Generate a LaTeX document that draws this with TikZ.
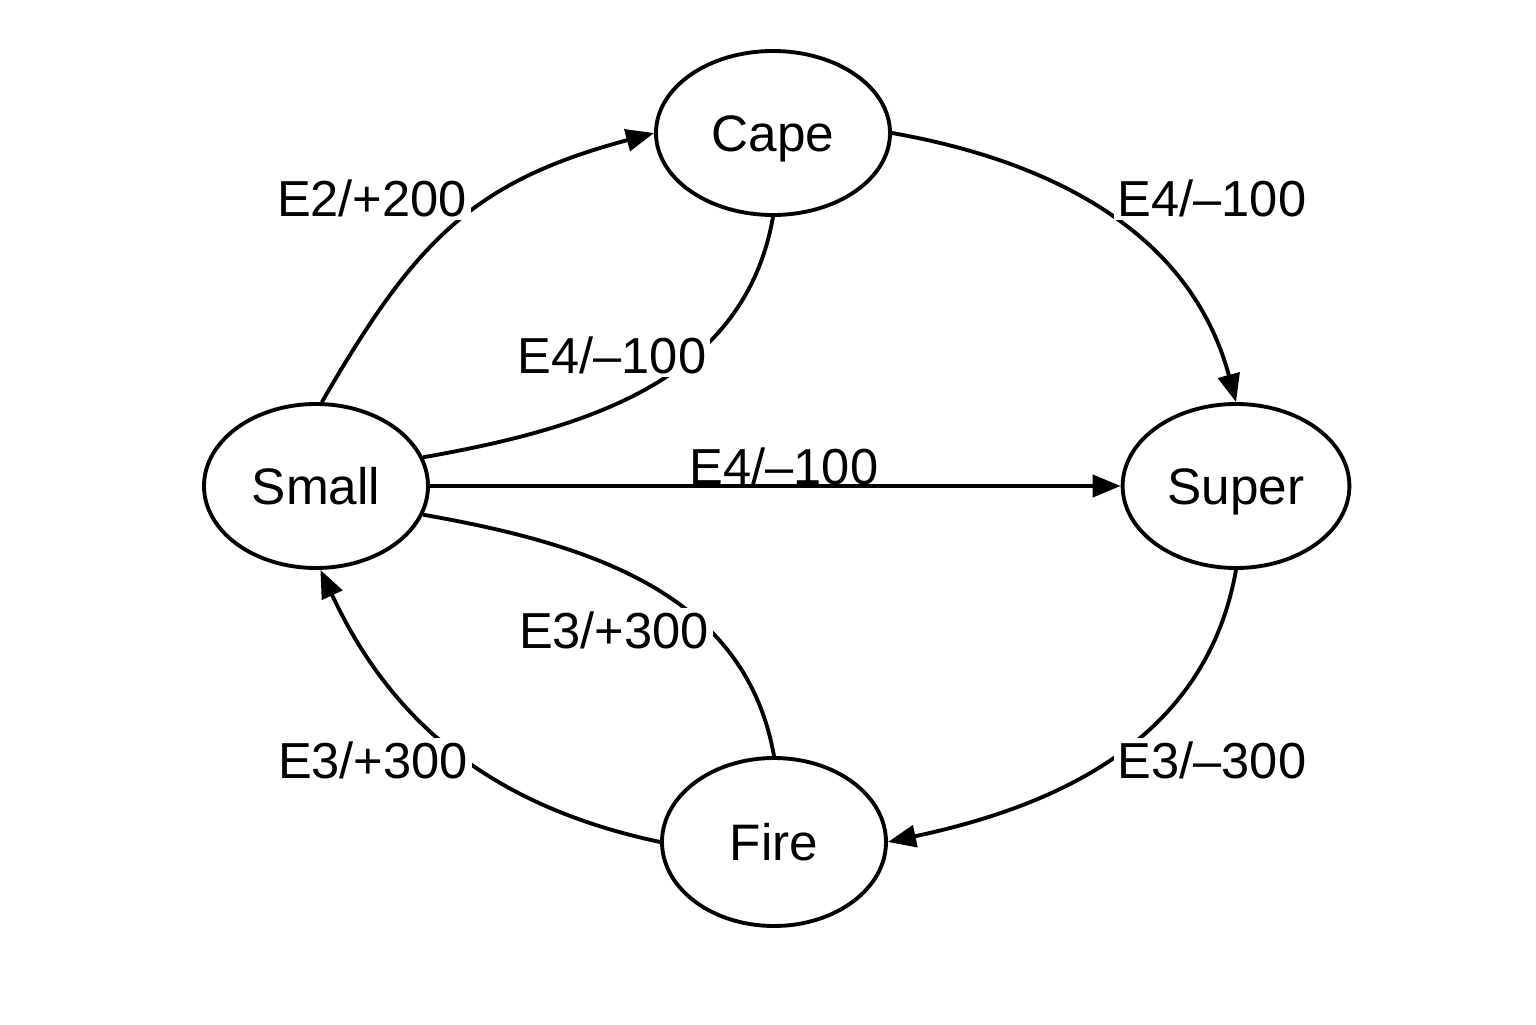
\documentclass[tikz,border=0pt]{standalone}
\usepackage{fontspec}
\setmainfont{Liberation Sans}
\usetikzlibrary{shapes.geometric,arrows.meta}

\begin{document}
\begin{tikzpicture}[
  state/.style={ellipse,draw,line width=1.1pt,minimum width=2.24cm,minimum height=1.64cm,text height=4mm,text depth=0.36mm,font=\fontsize{14.6}{17}\selectfont},
  lbl/.style={fill=white,inner sep=1pt,font=\fontsize{14.4}{17}\selectfont},
  trans/.style={line width=1.1pt,-{Triangle[length=2.8mm,width=2.2mm]}},
  back/.style={line width=1.1pt}
]
\useasboundingbox (0,0) rectangle (15.36,10.24);
\node[state,minimum width=2.34cm] (cape) at (7.73,8.91) {Cape};
\node[state] (small) at (3.16,5.38) {Small};
\node[state] (super) at (12.36,5.38) {Super};
\node[state,minimum height=1.68cm] (fire) at (7.74,1.82) {Fire};
% transitions
\draw[trans] (small.86) to[out=60,in=195,looseness=1.12] (cape.west);
\draw[trans] (cape.east) to[out=-10,in=105] (super.north);
\draw[trans] (small.east) -- (super.west);
\draw[trans] (super.south) to[out=-100,in=12] (fire.east);
\draw[trans] (fire.west) to[out=168,in=-65] (small.-87);
\draw[back] (cape.south) to[out=-100,in=10] (small.15);
\draw[back] (fire.north) to[out=100,in=-10] (small.-15);
% labels
\node[lbl] (l1) at (3.72,8.26) {E2/+200};
\node[lbl] (l2) at (12.12,8.26) {E4/\textendash100};
\node[lbl] (l3) at (6.12,6.69) {E4/\textendash100};
\node[anchor=base,inner sep=0pt,font=\fontsize{14.4}{17}\selectfont] (l4) at (7.84,5.40) {E4/\textendash100};
\node[lbl] (l5) at (6.14,3.94) {E3/+300};
\node[lbl] (l6) at (3.73,2.64) {E3/+300};
\node[lbl] (l7) at (12.12,2.64) {E3/\textendash300};
\end{tikzpicture}
\end{document}
